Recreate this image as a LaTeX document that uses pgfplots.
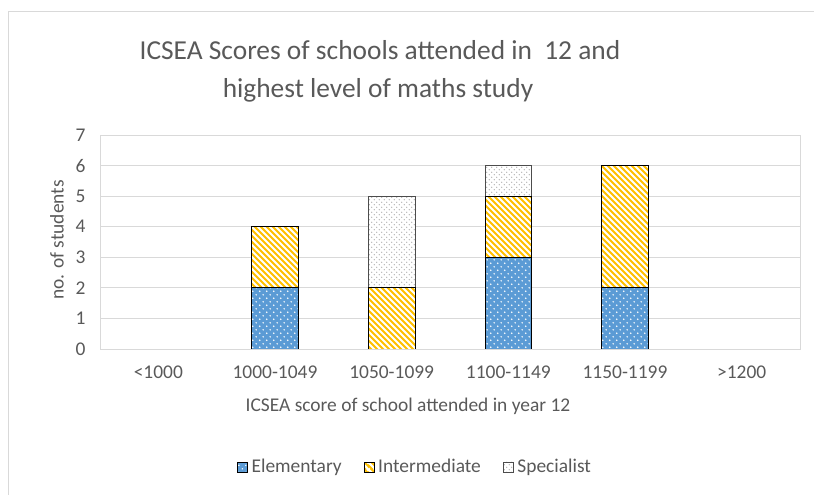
\documentclass[border=0pt]{standalone}
\usepackage{pgfplots}
\pgfplotsset{compat=1.18}
\usepackage{fontspec}
\setmainfont{Carlito}
\usetikzlibrary{patterns.meta}
\definecolor{cblue}{HTML}{5B9BD5}
\definecolor{cyel}{HTML}{FFC000}
\definecolor{cgrid}{HTML}{D9D9D9}
\definecolor{ctext}{HTML}{595959}
\definecolor{cspec}{HTML}{A6A6A6}
\tikzdeclarepattern{name=wdiag, type=uncolored,
  bounding box={(0pt,0pt) and (6.5pt,6.5pt)}, tile size={(6.5pt,6.5pt)},
  code={\draw[line width=2.2pt] (-1pt,7.5pt) -- (7.5pt,-1pt);
        \draw[line width=2.2pt] (-1pt,1pt) -- (1pt,-1pt);
        \draw[line width=2.2pt] (5.5pt,7.5pt) -- (7.5pt,5.5pt);}}
\tikzdeclarepattern{name=wdots, type=uncolored,
  bounding box={(0pt,0pt) and (7pt,7pt)}, tile size={(7pt,7pt)},
  code={\fill (1.75pt,1.75pt) circle (0.8pt);
        \fill (5.25pt,5.25pt) circle (0.8pt);}}
\tikzdeclarepattern{name=gdots, type=uncolored,
  bounding box={(0pt,0pt) and (5pt,5pt)}, tile size={(5pt,5pt)},
  code={\fill (1.25pt,1.25pt) circle (0.55pt);
        \fill (3.75pt,3.75pt) circle (0.55pt);}}
\newcommand{\fs}{\fontsize{19.5}{22}\selectfont}
\begin{document}
\begin{tikzpicture}[x=1bp,y=1bp]
\path[use as bounding box] (-100,-146) rectangle (714,349);
\draw[cgrid, line width=0.75pt] (-92,-170) rectangle (730,338);
\begin{axis}[
  at={(0,0)}, anchor=south west,
  width=700bp, height=214bp, scale only axis,
  ybar stacked, bar width=0.4,
  xmin=-0.5, xmax=5.5, ymin=0, ymax=7,
  xtick={0,1,2,3,4,5},
  xticklabels={<1000,1000-1049,1050-1099,1100-1149,1150-1199,>1200},
  ytick={0,1,2,3,4,5,6,7},
  ymajorgrids,
  grid style={cgrid, line width=0.75pt},
  axis line style={cgrid, line width=0.75pt},
  major tick length=0pt,
  tick label style={font=\fs, text=ctext},
  /pgf/number format/assume math mode=true,
  yticklabel style={xshift=-11bp},
  xticklabel style={yshift=-13.5bp},
  xlabel={ICSEA score of school attended in year 12},
  every axis x label/.style={at={(axis description cs:0.44,-0.29)}, anchor=base, font=\fs, text=ctext},
  legend style={at={(axis description cs:0.45,-0.551)}, anchor=center, draw=none,
    font=\fs, text=ctext, legend columns=3,
    /tikz/every odd column/.append style={column sep=2bp},
    /tikz/every even column/.append style={column sep=20bp}},
  legend image code/.code={\draw[#1, line width=0.6pt] (0bp,-5bp) rectangle (10bp,5bp);},
]
\addplot[fill=cblue, draw=black, line width=0.75pt, postaction={pattern={wdots}, pattern color=white}]
  coordinates {(1,2) (2,0) (3,3) (4,2)};
\addlegendentry{Elementary}
\addplot[fill=cyel, draw=black, line width=0.75pt, postaction={pattern={wdiag}, pattern color=white}]
  coordinates {(1,2) (2,2) (3,2) (4,4)};
\addlegendentry{Intermediate}
\addplot[fill=white, draw=black!70, line width=0.75pt, postaction={pattern={gdots}, pattern color=cspec}]
  coordinates {(1,0) (2,3) (3,1) (4,0)};
\addlegendentry{Specialist}
\end{axis}
\node[font=\fs, text=ctext, rotate=90, anchor=center] at (-43,109) {no. of students};
\node[font=\fontsize{27.5}{30}\selectfont, text=ctext, anchor=base] at (280,289) {ICSEA Scores of schools attended in\ \ 12 and};
\node[font=\fontsize{27.5}{30}\selectfont, text=ctext, anchor=base] at (278,251) {highest level of maths study};
\end{tikzpicture}
\end{document}
